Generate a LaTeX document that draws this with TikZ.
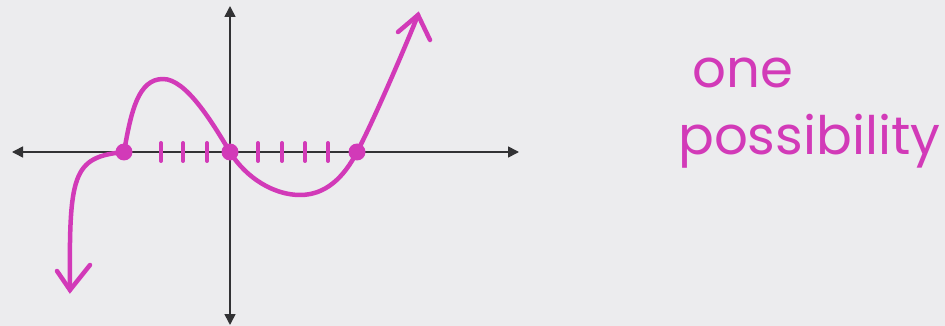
\documentclass[tikz,border=0pt]{standalone}
\usepackage{fontspec}
\newfontfamily\hand{Poppins}
\usetikzlibrary{arrows.meta}
\definecolor{paper}{RGB}{236,236,238}
\definecolor{ink}{RGB}{210,58,184}
\definecolor{axisgray}{RGB}{50,50,52}
\tikzset{
  axisline/.style={draw=axisgray, line width=1.6pt, {Triangle[length=11pt,width=11pt]}-{Triangle[length=11pt,width=11pt]}},
  curveline/.style={draw=ink, line width=4.5pt, line cap=round, line join=round},
  tipline/.style={draw=ink, line width=4.5pt, line cap=round},
  tickmark/.style={draw=ink, line width=4pt, line cap=round},
  rootdot/.style={circle, fill=ink, inner sep=0pt, minimum size=17pt},
  handtext/.style={text=ink, font=\hand\fontsize{53}{58}\selectfont, anchor=base west, inner sep=0pt}
}
\begin{document}
\begin{tikzpicture}[x=1pt,y=-1pt]
\useasboundingbox (0,0) rectangle (945,326);
\fill[paper] (0,0) rectangle (945,326);
% axes
\coordinate (xl) at (12,152);
\coordinate (xr) at (519,152);
\coordinate (yt) at (230,6);
\coordinate (yb) at (230,325);
\draw[axisline] (xl) -- (xr);
\draw[axisline] (yt) -- (yb);
% tick marks
\foreach \x/\n in {161/a,183/b,207/c,258/d,282/e,305/f,328/g}{
  \coordinate (t\n1) at (\x,143);
  \coordinate (t\n2) at (\x,161);
  \draw[tickmark] (t\n1) -- (t\n2);
}
% curve
\coordinate (start) at (70,290);
\coordinate (peak) at (163,79);
\coordinate (trough) at (300,195);
\coordinate (finish) at (418,15);
\node[rootdot] (r1) at (124,152) {};
\node[rootdot] (r2) at (230,152) {};
\node[rootdot] (r3) at (357,152) {};
\draw[curveline] (start) .. controls (69,175) and (72,157) .. (r1.center)
  .. controls (131,112) and (138,79) .. (peak)
  .. controls (186,79) and (212,122) .. (r2.center)
  .. controls (246,178) and (274,195) .. (trough)
  .. controls (326,195) and (344,177) .. (r3.center)
  .. controls (372,124) and (404,50) .. (finish);
% arrow tips
\coordinate (bl) at (57,271);
\coordinate (br) at (90,265);
\coordinate (tl) at (398,32);
\coordinate (tr) at (430,40);
\draw[tipline] (bl) -- (start) -- (br);
\draw[tipline] (tl) -- (finish) -- (tr);
% text
\node[handtext] (one) at (692,88) {one};
\node[handtext] (poss) at (678,154) {possibility};
\end{tikzpicture}
\end{document}
